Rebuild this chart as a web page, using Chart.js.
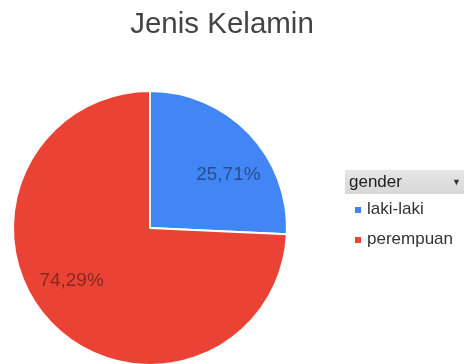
<!DOCTYPE html>
<html>
<head>
<meta charset="utf-8">
<script src="https://cdn.jsdelivr.net/npm/chart.js@4"></script>
<style>
  body { margin: 0; background: #fff; overflow: hidden; width: 464px; height: 364px; font-family: "Liberation Sans", Arial, sans-serif; }
  #wrap { position: relative; width: 464px; height: 364px; overflow: hidden; }
  #legend { position: absolute; left: 345px; top: 170px; width: 130px; }
  #legend .head { background: linear-gradient(#e6e6e6, #d8d8d8); height: 24px; line-height: 24px; font-size: 17px; color: #222; padding-left: 4px; position: relative; }
  #legend .head span.arrow { position: absolute; left: 107px; top: 0px; font-size: 9px; color: #333; }
  #legend .item { font-size: 17px; color: #333; height: 30px; line-height: 30px; position: relative; }
  #legend .item i { position: absolute; left: 10px; top: 13px; width: 6px; height: 6px; }
  #legend .item span { margin-left: 22px; }
</style>
</head>
<body>
<div id="wrap">
  <canvas id="pie" width="464" height="370"></canvas>
  <div id="legend"></div>
</div>
<script>
const title = "Jenis Kelamin";
const legendTitle = "gender";
const categories = ["laki-laki", "perempuan"];
const counts = [9, 26];
const colors = ["#4285f4", "#ea4335"];

const total = counts.reduce((a, b) => a + b, 0);

const legendEl = document.getElementById("legend");
legendEl.innerHTML = `<div class="head">${legendTitle}<span class="arrow">&#9660;</span></div>` +
  categories.map((c, i) => `<div class="item"><i style="background:${colors[i]}"></i><span>${c}</span></div>`).join("");

const labelsPlugin = {
  id: "pieText",
  afterDraw(chart) {
    const ctx = chart.ctx;
    ctx.save();
    ctx.font = '29.5px "Liberation Sans", Arial, sans-serif';
    ctx.fillStyle = "#444";
    ctx.textAlign = "center";
    ctx.textBaseline = "alphabetic";
    ctx.fillText(title, 222, 33);

    // slice labels, nudged a bit like the original renderer does
    ctx.font = '19px "Liberation Sans", Arial, sans-serif';
    ctx.textBaseline = "middle";
    ctx.fillStyle = "rgba(0,0,0,0.42)";
    chart.getDatasetMeta(0).data.forEach((arc, i) => {
      const mid = (arc.startAngle + arc.endAngle) / 2 + 0.17;
      const r = arc.outerRadius * 0.69;
      const pct = (counts[i] / total * 100).toFixed(2).replace(".", ",") + "%";
      ctx.fillText(pct, arc.x + Math.cos(mid) * r, arc.y + Math.sin(mid) * r);
    });
    ctx.restore();
  }
};

new Chart(document.getElementById("pie"), {
  type: "pie",
  data: {
    labels: categories,
    datasets: [{
      data: counts,
      backgroundColor: colors,
      borderColor: "#fff",
      borderWidth: 2
    }]
  },
  options: {
    responsive: false,
    animation: false,
    layout: { padding: { top: 90, bottom: 4, left: 12, right: 176 } },
    plugins: {
      legend: { display: false },
      tooltip: { enabled: false }
    }
  },
  plugins: [labelsPlugin]
});
</script>
</body>
</html>
